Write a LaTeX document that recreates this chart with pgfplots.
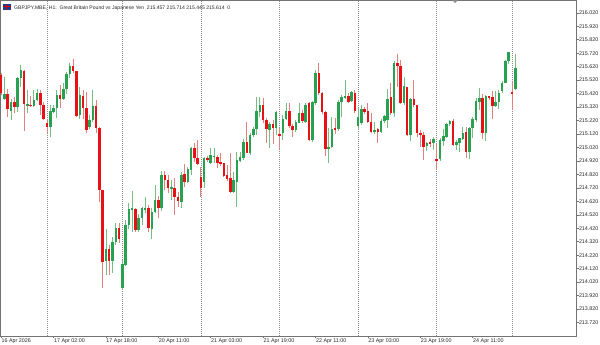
\documentclass[border=0pt]{standalone}
\usepackage{fontspec}
\setmainfont{Liberation Sans}
\usepackage{pgfplots}
\usepackage{pgfplotstable}
\pgfplotsset{compat=1.18}
\definecolor{bull}{RGB}{40,162,80}
\definecolor{bear}{RGB}{232,18,22}
\definecolor{bullwick}{RGB}{118,190,132}
\definecolor{bearwick}{RGB}{228,128,128}
\definecolor{sep}{RGB}{140,140,140}
\definecolor{txt}{RGB}{40,40,40}
\definecolor{flagblue}{RGB}{30,60,150}

\pgfplotstableread{
j o h l c
0 215.558 215.571 215.410 215.422
1 215.380 215.546 215.373 215.417
2 215.417 215.452 215.244 215.303
3 215.293 215.378 215.224 215.360
4 215.360 215.398 215.278 215.323
5 215.323 215.541 215.286 215.534
6 215.534 215.632 215.472 215.595
7 215.590 215.595 215.145 215.340
8 215.335 215.447 215.278 215.343
9 215.340 215.403 215.323 215.330
10 215.330 215.447 215.323 215.373
11 215.373 215.452 215.368 215.427
12 215.427 215.447 215.261 215.333
13 215.335 215.360 215.224 215.229
14 215.202 215.229 215.130 215.170
15 215.170 215.335 215.100 215.291
16 215.286 215.335 215.278 215.311
17 215.316 215.447 215.239 215.412
18 215.410 215.484 215.311 215.385
19 215.385 215.497 215.373 215.452
20 215.452 215.583 215.422 215.566
21 215.566 215.645 215.534 215.625
22 215.625 215.677 215.571 215.590
23 215.588 215.590 215.249 215.254
24 215.261 215.472 215.229 215.410
25 215.403 215.447 215.229 215.311
26 215.311 215.435 215.130 215.150
27 215.170 215.261 215.155 215.224
28 215.224 215.447 215.212 215.330
29 215.330 215.373 215.130 215.162
30 215.162 215.170 214.618 214.704
31 214.704 214.704 213.975 214.172
32 214.180 214.413 214.074 214.271
33 214.271 214.296 214.074 214.180
34 214.180 214.358 214.086 214.321
35 214.321 214.457 214.296 214.420
36 214.420 214.462 214.308 214.340
37 213.975 214.185 213.962 214.153
38 214.148 214.482 214.140 214.449
39 214.444 214.606 214.413 214.561
40 214.561 214.699 214.395 214.569
41 214.561 214.569 214.395 214.408
42 214.408 214.527 214.395 214.494
43 214.494 214.581 214.445 214.569
44 214.561 214.655 214.531 214.569
45 214.569 214.593 214.395 214.420
46 214.420 214.569 214.340 214.544
47 214.544 214.741 214.531 214.630
48 214.630 214.660 214.494 214.568
49 214.568 214.848 214.551 214.816
50 214.816 214.848 214.704 214.781
51 214.781 214.816 214.680 214.717
52 214.717 214.778 214.630 214.724
53 214.722 214.791 214.519 214.655
54 214.655 214.692 214.581 214.625
55 214.618 214.840 214.569 214.816
56 214.821 214.897 214.729 214.766
57 214.766 214.877 214.759 214.858
58 214.853 215.026 214.816 215.019
59 215.019 215.051 214.915 214.940
60 214.940 215.076 214.890 214.897
61 214.800 214.877 214.655 214.720
62 214.766 214.952 214.717 214.944
63 214.940 214.957 214.915 214.927
64 214.907 215.019 214.897 214.964
65 214.952 215.014 214.902 214.957
66 214.952 214.964 214.865 214.902
67 214.912 214.977 214.883 214.895
68 214.902 214.907 214.803 214.808
69 214.816 214.890 214.774 214.786
70 214.796 214.977 214.685 214.687
71 214.687 214.840 214.680 214.783
72 214.766 214.989 214.581 214.927
73 214.922 214.989 214.915 214.947
74 214.940 215.081 214.932 215.063
75 215.063 215.212 214.977 214.982
76 214.982 215.130 214.964 215.113
77 215.113 215.170 215.100 215.155
78 215.162 215.398 215.113 215.291
79 215.286 215.398 215.249 215.340
80 215.335 215.385 215.204 215.224
81 215.224 215.236 215.056 215.155
82 215.150 215.212 215.014 215.194
83 215.192 215.224 215.046 215.162
84 215.162 215.291 215.113 215.286
85 215.118 215.162 215.006 215.113
86 215.130 215.261 215.076 215.236
87 215.229 215.348 215.224 215.291
88 215.291 215.348 215.162 215.180
89 215.180 215.194 215.100 215.150
90 215.150 215.224 215.138 215.212
91 215.204 215.348 215.199 215.278
92 215.278 215.298 215.199 215.217
93 215.212 215.348 215.199 215.335
94 215.348 215.360 215.071 215.076
95 215.076 215.365 215.063 215.360
96 215.353 215.595 215.335 215.575
97 215.575 215.650 215.410 215.422
98 215.422 215.435 215.273 215.286
99 215.286 215.291 214.957 215.009
100 215.006 215.162 214.902 215.026
101 215.026 215.249 215.014 215.155
102 215.162 215.236 215.120 215.150
103 215.155 215.373 215.145 215.360
104 215.360 215.410 215.244 215.392
105 215.392 215.526 215.385 215.403
106 215.403 215.422 215.348 215.360
107 215.365 215.442 215.360 215.430
108 215.427 215.447 215.273 215.291
109 215.180 215.311 215.150 215.249
110 215.204 215.335 215.187 215.303
111 215.303 215.323 215.273 215.286
112 215.291 215.348 215.204 215.212
113 215.212 215.273 215.130 215.138
114 215.138 215.212 215.120 215.150
115 215.155 215.162 215.051 215.138
116 215.138 215.229 215.130 215.219
117 215.217 215.261 215.204 215.254
118 215.224 215.452 215.162 215.385
119 215.392 215.497 215.261 215.273
120 215.273 215.665 215.249 215.645
121 215.645 215.719 215.472 215.627
122 215.625 215.670 215.340 215.348
123 215.348 215.546 215.335 215.477
124 215.472 215.472 215.108 215.113
125 215.113 215.385 215.071 215.378
126 215.378 215.521 215.323 215.335
127 215.335 215.335 215.100 215.125
128 215.125 215.150 215.026 215.113
129 215.113 215.138 214.927 215.026
130 215.031 215.063 214.996 215.056
131 215.058 215.081 215.026 215.051
132 215.056 215.095 215.001 215.083
133 214.932 215.051 214.853 214.922
134 214.932 215.088 214.922 215.076
135 215.071 215.155 215.031 215.105
136 215.100 215.199 215.088 215.192
137 215.192 215.224 215.180 215.217
138 215.217 215.236 215.031 215.038
139 215.036 215.076 215.001 215.058
140 215.056 215.088 214.989 215.088
141 215.083 215.170 215.076 215.130
142 215.133 215.170 214.940 214.989
143 214.989 215.170 214.932 215.167
144 215.162 215.244 215.088 215.231
145 215.224 215.385 215.212 215.365
146 215.360 215.464 215.298 215.390
147 215.390 215.415 215.081 215.130
148 215.130 215.410 215.071 215.403
149 215.398 215.403 215.373 215.392
150 215.392 215.440 215.229 215.330
151 215.328 215.442 215.323 215.360
152 215.355 215.447 215.303 215.422
153 215.442 215.514 215.427 215.501
154 215.501 215.670 215.497 215.662
155 215.662 215.731 215.640 215.729
156 215.430 215.509 215.298 215.422
157 215.457 215.714 215.445 215.614
}\candles

\pgfplotsset{candle/.style={forget plot, only marks, mark=*, mark size=0pt,
  mark options={draw=none, fill=none},
  error bars/.cd, y dir=both, y explicit, error mark=none}}

\begin{document}
\begin{tikzpicture}
\useasboundingbox (0,0) rectangle (600bp,345bp);
\begin{axis}[
  at={(0bp,9bp)}, anchor=south west,
  scale only axis, width=576bp, height=336bp,
  xmin=-0.354, xmax=175.54, ymin=213.620, ymax=216.115,
  axis line style={black!55, line width=0.6bp},
  xtick={0,16,32,48,64,80,96,112,128,144},
  xticklabels={16 Apr 2026, 17 Apr 02:00, 17 Apr 18:00, 20 Apr 11:00, 21 Apr 03:00, 21 Apr 19:00, 22 Apr 11:00, 23 Apr 03:00, 23 Apr 19:00, 24 Apr 11:00},
  ytick={213.72,213.82,213.92,214.02,214.12,214.22,214.32,214.42,214.52,214.62,214.72,214.82,214.92,215.02,215.12,215.22,215.32,215.42,215.52,215.62,215.72,215.82,215.92,216.02},
  xtick pos=bottom, ytick pos=right, yticklabel pos=right,
  tick align=outside, major tick length=2.5bp,
  tick style={black!55, line width=0.5bp},
  yticklabel style={font=\fontsize{5.4}{6}\selectfont, text=txt, anchor=west, inner sep=0pt, xshift=0.3bp,
    /pgf/number format/.cd, fixed, fixed zerofill, precision=3, 1000 sep={}, assume math mode=true},
  xticklabel style={font=\fontsize{5.4}{6}\selectfont, text=txt, anchor=north west, inner sep=0pt, xshift=0.3bp, yshift=-0.5bp},
  extra x ticks={14,37,61,85,109,133,156},
  extra x tick labels={},
  extra x tick style={grid=major, major tick length=0pt, major grid style={sep, line width=0.6bp, dash pattern=on 1bp off 1bp}},
  clip=true,
]
% wicks
\addplot[candle, error bar style={line width=0.9bp, draw=bullwick, line cap=butt}]
  table[x=j, y expr={(\thisrow{h}+\thisrow{l})/2}, y error expr={\thisrow{c}>=\thisrow{o} ? (\thisrow{h}-\thisrow{l})/2 : 0}] {\candles};
\addplot[candle, error bar style={line width=0.9bp, draw=bearwick, line cap=butt}]
  table[x=j, y expr={(\thisrow{h}+\thisrow{l})/2}, y error expr={\thisrow{c}<\thisrow{o} ? (\thisrow{h}-\thisrow{l})/2 : 0}] {\candles};
% bodies
\addplot[candle, error bar style={line width=2.5bp, draw=bull, line cap=butt}]
  table[x=j, y expr={(\thisrow{o}+\thisrow{c})/2}, y error expr={\thisrow{c}>=\thisrow{o} ? max((\thisrow{c}-\thisrow{o})/2,0.0035) : 0}] {\candles};
\addplot[candle, error bar style={line width=2.5bp, draw=bear, line cap=butt}]
  table[x=j, y expr={(\thisrow{o}+\thisrow{c})/2}, y error expr={\thisrow{c}<\thisrow{o} ? max((\thisrow{o}-\thisrow{c})/2,0.0035) : 0}] {\candles};
\end{axis}
% title with small flag icon
\fill[flagblue] (2.5bp,335bp) rectangle (10.5bp,341bp);
\fill[red!85!black] (2.5bp,337.5bp) rectangle (10.5bp,338.5bp);
\fill[red!85!black] (6bp,335bp) rectangle (7bp,341bp);
\node[anchor=base west, font=\fontsize{5.1}{6}\selectfont, text=txt, inner sep=0pt] at (14bp,335bp)
  {GBPJPY.MBE, H1:\ \ Great Britain Pound vs Japanese Yen\ \ 215.457 215.714 215.445 215.614\ \ 0};
\fill[black!45] (452bp,345bp) -- (458bp,345bp) -- (455bp,342bp) -- cycle;
\end{tikzpicture}
\end{document}
